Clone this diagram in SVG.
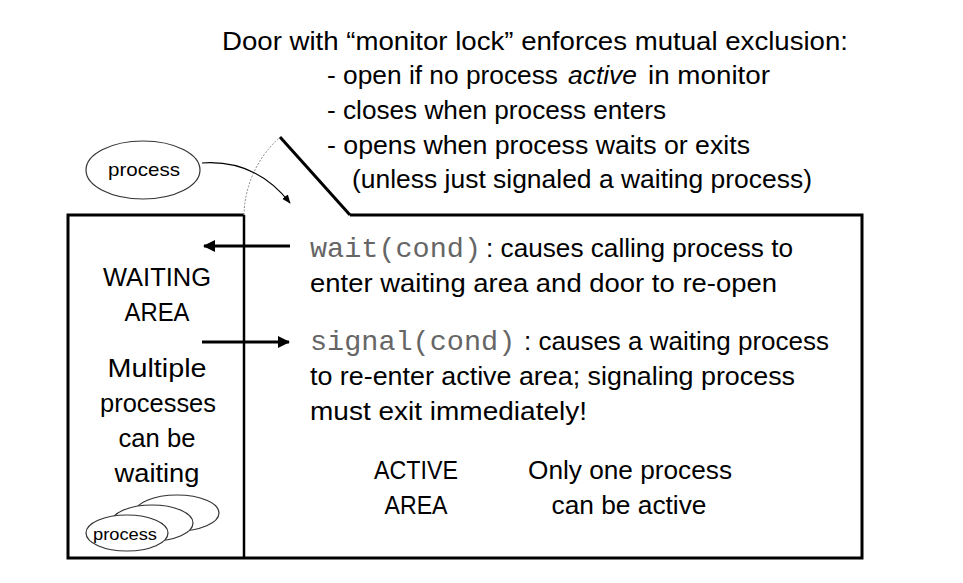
<svg xmlns="http://www.w3.org/2000/svg" width="963" height="583" viewBox="0 0 963 583">
<defs>
<style>
.t{font-family:"Liberation Sans",Arial,sans-serif;font-size:25px;fill:#000}
.c{text-anchor:middle}
.m{font-family:"Liberation Mono","Courier New",monospace;font-size:28.5px;fill:#666}
.box{fill:none;stroke:#000;stroke-width:3;stroke-linejoin:miter}
.el{fill:#fff;stroke:#333;stroke-width:1.2}
.pt{font-family:"Liberation Sans",Arial,sans-serif;fill:#000;text-anchor:middle}
.thick{stroke:#000;stroke-width:3;fill:none}
</style>
<marker id="ah" viewBox="0 0 12 12" refX="11" refY="6" markerWidth="12" markerHeight="12" markerUnits="userSpaceOnUse" orient="auto">
<path d="M0,0 L12,6 L0,12 Z" fill="#000"/>
</marker>
<marker id="ahs" viewBox="0 0 10 10" refX="9" refY="5" markerWidth="9" markerHeight="9" markerUnits="userSpaceOnUse" orient="auto">
<path d="M0,1 L10,5 L0,9 Z" fill="#000"/>
</marker>
</defs>
<rect width="963" height="583" fill="#fff"/>
<g id="monitor">
<path class="box" d="M244,215 H68 V558 H862 V215 H350"/>
</g>
<g id="door">
<path class="box" d="M350,215 L280,137"/>
<path d="M244,215 A107,107 0 0 1 279,138" fill="none" stroke="#888" stroke-width="1" stroke-dasharray="2 1.5"/>
</g>
<g id="waiting-area">
<path d="M244,215 V558" stroke="#000" stroke-width="2.5" fill="none"/>
<text class="t c" x="157" y="286" textLength="108" lengthAdjust="spacingAndGlyphs">WAITING</text>
<text class="t c" x="157" y="321" textLength="65" lengthAdjust="spacingAndGlyphs">AREA</text>
<text class="t c" x="157" y="377" textLength="99" lengthAdjust="spacingAndGlyphs">Multiple</text>
<text class="t c" x="158" y="412" textLength="116" lengthAdjust="spacingAndGlyphs">processes</text>
<text class="t c" x="157" y="447" textLength="77" lengthAdjust="spacingAndGlyphs">can be</text>
<text class="t c" x="157" y="482" textLength="85" lengthAdjust="spacingAndGlyphs">waiting</text>
</g>
<g id="waiting-processes">
<ellipse class="el" cx="177" cy="513" rx="42" ry="18"/>
<ellipse class="el" cx="152" cy="523" rx="41" ry="18"/>
<ellipse class="el" cx="127" cy="533" rx="41" ry="18"/>
<text class="pt" x="125" y="540" font-size="16" textLength="64" lengthAdjust="spacingAndGlyphs">process</text>
</g>
<g id="process">
<ellipse class="el" cx="143" cy="170" rx="57" ry="29"/>
<text class="pt" x="144" y="176" font-size="19" textLength="72" lengthAdjust="spacingAndGlyphs">process</text>
</g>
<g id="door-rules">
<text class="t" x="222" y="50" textLength="626" lengthAdjust="spacingAndGlyphs">Door with “monitor lock” enforces mutual exclusion:</text>
<text class="t" x="327" y="84" textLength="231" lengthAdjust="spacingAndGlyphs">- open if no process</text>
<text class="t" x="568" y="84" font-style="italic" textLength="69" lengthAdjust="spacingAndGlyphs">active</text>
<text class="t" x="648" y="84" textLength="122" lengthAdjust="spacingAndGlyphs">in monitor</text>
<text class="t" x="327" y="119" textLength="339" lengthAdjust="spacingAndGlyphs">- closes when process enters</text>
<text class="t" x="327" y="154" textLength="423" lengthAdjust="spacingAndGlyphs">- opens when process waits or exits</text>
<text class="t" x="352" y="188" textLength="460" lengthAdjust="spacingAndGlyphs">(unless just signaled a waiting process)</text>
</g>
<g id="active-area">
<text class="m" x="310" y="257">wait(cond)</text>
<text class="t" x="486" y="257" textLength="307" lengthAdjust="spacingAndGlyphs">: causes calling process to</text>
<text class="t" x="310" y="292" textLength="467" lengthAdjust="spacingAndGlyphs">enter waiting area and door to re-open</text>
<text class="m" x="310" y="350">signal(cond)</text>
<text class="t" x="524" y="350" textLength="305" lengthAdjust="spacingAndGlyphs">: causes a waiting process</text>
<text class="t" x="310" y="385" textLength="485" lengthAdjust="spacingAndGlyphs">to re-enter active area; signaling process</text>
<text class="t" x="310" y="420" textLength="277" lengthAdjust="spacingAndGlyphs">must exit immediately!</text>
<text class="t c" x="416" y="479" textLength="84" lengthAdjust="spacingAndGlyphs">ACTIVE</text>
<text class="t c" x="416" y="514" textLength="63" lengthAdjust="spacingAndGlyphs">AREA</text>
<text class="t c" x="630" y="479" textLength="204" lengthAdjust="spacingAndGlyphs">Only one process</text>
<text class="t c" x="629" y="514" textLength="155" lengthAdjust="spacingAndGlyphs">can be active</text>
</g>
<g id="connectors">
<path d="M202,163 C245,160 272,180 290,203" fill="none" stroke="#000" stroke-width="1.2" marker-end="url(#ahs)"/>
<path class="thick" d="M290,246 H204" marker-end="url(#ah)"/>
<path class="thick" d="M202,342 H289" marker-end="url(#ah)"/>
</g>
</svg>
